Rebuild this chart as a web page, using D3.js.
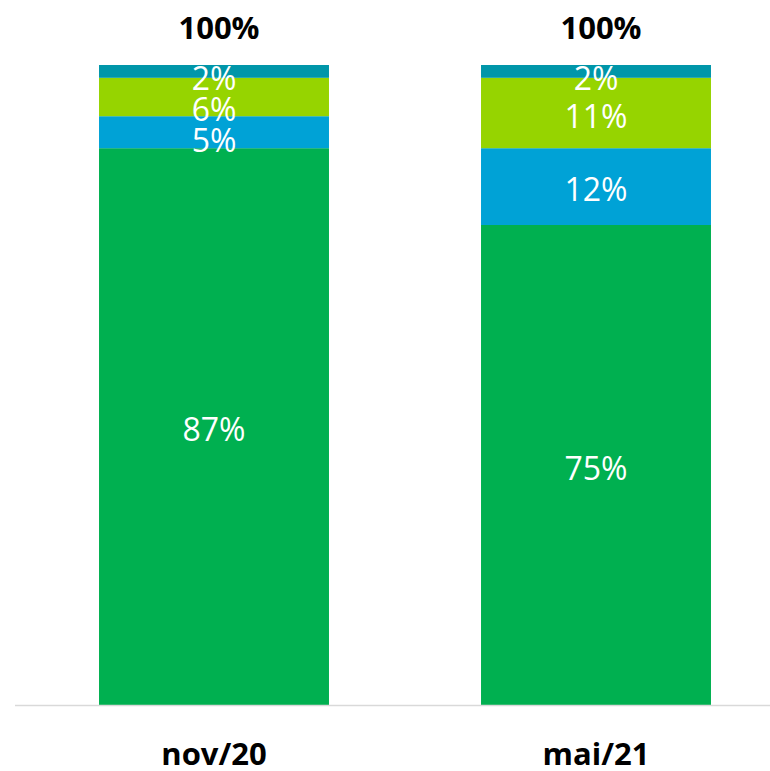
<!DOCTYPE html>
<html>
<head>
<meta charset="utf-8">
<script src="https://cdn.jsdelivr.net/npm/d3@7"></script>
<style>
  html, body { margin: 0; padding: 0; background: #ffffff; }
  svg { display: block; }
</style>
</head>
<body>
<svg id="chart" width="770" height="771"></svg>
<script>
// Periods on the x axis
const categories = ["nov/20", "mai/21"];
// Stack segments, bottom to top
const seriesNames = ["s1", "s2", "s3", "s4"];
const s1 = [87, 75];
const s2 = [5, 12];
const s3 = [6, 11];
const s4 = [2, 2];
const seriesColors = ["#00B050", "#00A2D6", "#96D400", "#0096A9"];

const width = 770, height = 771;
const svg = d3.select("#chart");

const rows = categories.map((c, i) => ({ cat: c, s1: s1[i], s2: s2[i], s3: s3[i], s4: s4[i] }));
const stacked = d3.stack().keys(seriesNames)(rows);

const x = d3.scaleBand()
  .domain(categories)
  .range([23, 787])
  .paddingInner(0.398)
  .paddingOuter(0.199);

const y = d3.scaleLinear().domain([0, 100]).range([705, 65]);

const font = "'Open Sans', 'Liberation Sans', sans-serif";

// Segments
stacked.forEach((layer, li) => {
  svg.append("g")
    .selectAll("rect")
    .data(layer)
    .join("rect")
    .attr("x", d => x(d.data.cat))
    .attr("width", x.bandwidth())
    .attr("y", d => y(d[1]))
    .attr("height", d => y(d[0]) - y(d[1]))
    .attr("fill", seriesColors[li]);
});

// Baseline
svg.append("line")
  .attr("x1", 15).attr("x2", 770)
  .attr("y1", y(0) + 0.5).attr("y2", y(0) + 0.5)
  .attr("stroke", "#d9d9d9")
  .attr("stroke-width", 1.5);

// Segment value labels: centred in each segment, nudged apart so they do not collide
const capH = 23, gap = 31;
categories.forEach((c, ci) => {
  const segs = stacked.map(layer => layer[ci]).reverse(); // top first
  let prev = -Infinity;
  segs.forEach((d, k) => {
    const top = y(d[1]), bot = y(d[0]);
    let cy = (top + bot) / 2 + 3;
    if (k === 0) cy = Math.max(cy, top + 2 + capH / 2);
    cy = Math.max(cy, prev + gap);
    prev = cy;
    svg.append("text")
      .attr("x", x(c) + x.bandwidth() / 2)
      .attr("y", cy + capH / 2)
      .attr("text-anchor", "middle")
      .attr("fill", "#ffffff")
      .attr("font-family", font)
      .attr("font-size", 32)
      .text((d[1] - d[0]) + "%");
  });
});

// Totals above each bar
svg.append("g")
  .selectAll("text")
  .data(rows)
  .join("text")
  .attr("x", d => x(d.cat) + x.bandwidth() / 2 + 5)
  .attr("y", 39)
  .attr("text-anchor", "middle")
  .attr("fill", "#000000")
  .attr("font-family", font)
  .attr("font-weight", "bold")
  .attr("font-size", 31)
  .text(d => (d.s1 + d.s2 + d.s3 + d.s4) + "%");

// Category axis
const xAxis = svg.append("g")
  .attr("transform", `translate(0,${y(0)})`)
  .call(d3.axisBottom(x).tickSize(0).tickPadding(0));
xAxis.select(".domain").remove();
xAxis.selectAll("text")
  .attr("y", 60)
  .attr("dy", 0)
  .attr("fill", "#000000")
  .attr("font-family", font)
  .attr("font-weight", "bold")
  .attr("font-size", 31);
</script>
</body>
</html>
